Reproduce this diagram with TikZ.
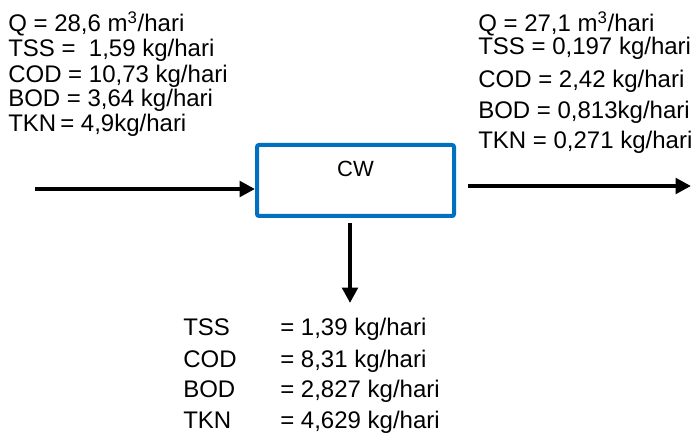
\documentclass[tikz,border=0pt]{standalone}
\usepackage{fontspec}
\setmainfont{Liberation Sans}
\usepackage{xcolor}
\usetikzlibrary{arrows.meta,positioning}

\definecolor{cwblue}{RGB}{0,112,192}

\begin{document}
\begin{tikzpicture}[
    x=0.75pt, y=-0.75pt,
    reactor/.style={draw=cwblue, line width=3pt, rounded corners=1.5pt, inner sep=0pt,
                    minimum width=147.75pt, text height=24pt, text depth=29.25pt,
                    font=\fontsize{16.5}{18}\selectfont},
    quality/.style={anchor=base west, inner sep=0pt, font=\fontsize{18}{20}\selectfont},
    flow/.style={-{Triangle[length=11.5pt, width=11.5pt]}, line width=3.4pt}]
  \useasboundingbox (0,0) rectangle (695,434);

  % influent
  \node[quality] (inQ)   at (8,32)  {Q = 28,6 m\textsuperscript{3}/hari};
  \node[quality] (inTSS) at (8,57)  {TSS =\ \ 1,59 kg/hari};
  \node[quality] (inCOD) at (8,83)  {COD = 10,73 kg/hari};
  \node[quality] (inBOD) at (8,107) {BOD = 3,64 kg/hari};
  \node[quality] (inTKN) at (8,132) {TKN\,= 4,9kg/hari};

  % effluent
  \node[quality] (outQ)   at (478,32)  {Q = 27,1 m\textsuperscript{3}/hari};
  \node[quality] (outTSS) at (478,55)  {TSS = 0,197 kg/hari};
  \node[quality] (outCOD) at (478,88)  {COD = 2,42 kg/hari};
  \node[quality] (outBOD) at (478,119) {BOD = 0,813kg/hari};
  \node[quality] (outTKN) at (478,149) {TKN = 0,271 kg/hari};

  % constructed wetland
  \node[reactor, anchor=base] (cw) at (355.5,177) {CW};

  % removed in the wetland
  \node[quality] (slTSS) at (183,335) {TSS};
  \node[quality] (slCOD) at (183,367) {COD};
  \node[quality] (slBOD) at (183,397) {BOD};
  \node[quality] (slTKN) at (183,428) {TKN};
  \node[quality] (slTSSv) at (280,335) {= 1,39 kg/hari};
  \node[quality] (slCODv) at (280,367) {= 8,31 kg/hari};
  \node[quality] (slBODv) at (280,397) {= 2,827 kg/hari};
  \node[quality] (slTKNv) at (280,428) {= 4,629 kg/hari};

  \coordinate (feed)   at (35,189);
  \coordinate (outlet) at (468,186);
  \coordinate (outend) at (691,186);
  \coordinate (sludge) at (350,303);

  \draw[flow] (feed) -- (feed -| cw.west);
  \draw[flow] (outlet) -- (outend);
  \draw[flow] ([yshift=-4pt]cw.south -| sludge) -- (sludge);
\end{tikzpicture}
\end{document}
